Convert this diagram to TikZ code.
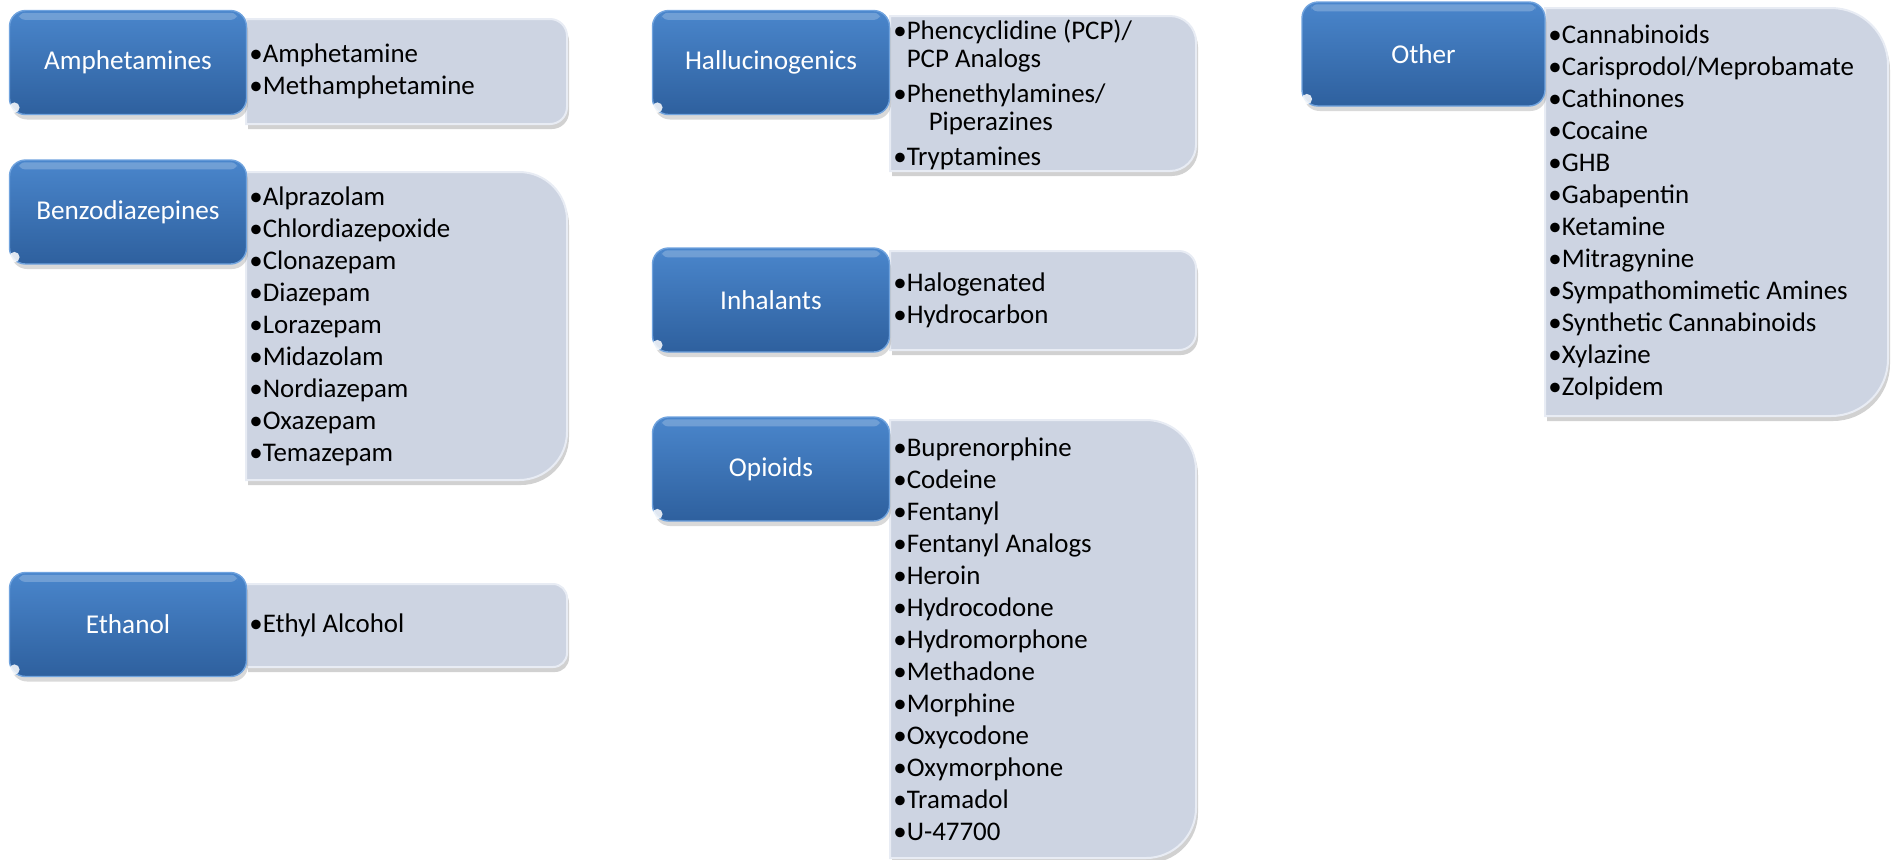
\documentclass[tikz,border=0pt]{standalone}
\usepackage{fontspec}
\setmainfont{Carlito}
\usetikzlibrary{shadows}
\definecolor{bluetop}{RGB}{74,134,204}
\definecolor{bluebot}{RGB}{46,96,158}
\definecolor{bluerim}{RGB}{112,163,222}
\definecolor{grayfill}{RGB}{205,212,226}
\definecolor{grayrim}{RGB}{232,236,244}
\tikzset{
  catbox/.style={rounded corners=8pt, minimum width=118.5pt, minimum height=52pt, inner sep=0pt,
    top color=bluetop, bottom color=bluebot, draw=bluerim, line width=0.7pt, text=white,
    font=\fontsize{13.6}{16}\selectfont,
    drop shadow={opacity=0.3, shadow xshift=0.8pt, shadow yshift=-2.5pt}},
  itemlist/.style={anchor=west, align=left, inner sep=0pt, text=black,
    font=\fontsize{13.45}{16}\selectfont},
  gloss/.style={white, opacity=0.22},
}
\newcommand\grayshape[5]{%
  \fill[black,opacity=0.18,shift={(2,5)}] (#1,#2) -- ({#3-#5},#2) arc[start angle=-90,end angle=0,radius=#5]
     -- (#3,{#4-#5}) arc[start angle=0,end angle=90,radius=#5] -- (#1,#4) -- cycle;
  \filldraw[fill=grayfill, draw=grayrim, line width=1pt] (#1,#2) -- ({#3-#5},#2) arc[start angle=-90,end angle=0,radius=#5]
     -- (#3,{#4-#5}) arc[start angle=0,end angle=90,radius=#5] -- (#1,#4) -- cycle;
}
\newcommand\glossy[1]{%
  \fill[gloss, rounded corners=3pt] ([xshift=5pt,yshift=-1.5pt]#1.north west) rectangle ([xshift=-5pt,yshift=-5pt]#1.north east);
  \fill[white, opacity=0.85] ([xshift=2.8pt,yshift=3.8pt]#1.south west) circle[radius=2.6pt];
}
\begin{document}
\begin{tikzpicture}[x=0.5pt,y=-0.5pt]
\useasboundingbox (0,0) rectangle (1891,859);
% gray list panels
\grayshape{246}{19}{567}{124}{17}
\grayshape{246}{172}{567}{480}{48}
\grayshape{246}{584}{567}{667}{14}
\grayshape{890}{16}{1196}{171}{26}
\grayshape{890}{251}{1196}{350}{17}
\grayshape{890}{420}{1196}{858}{50}
\grayshape{1545}{8}{1888}{416}{57}
% category boxes
\node[catbox] (amph) at (128,62.5) {Amphetamines};
\node[catbox] (benzo) at (128,212) {Benzodiazepines};
\node[catbox] (eth) at (128,624.5) {Ethanol};
\node[catbox] (hall) at (771,62.5) {Hallucinogenics};
\node[catbox] (inh) at (771,300) {Inhalants};
\node[catbox] (opi) at (771,469) {Opioids};
\node[catbox, minimum width=121.5pt] (oth) at (1423.5,54) {Other};
\glossy{amph}\glossy{benzo}\glossy{eth}\glossy{hall}\glossy{inh}\glossy{opi}\glossy{oth}
% item lists
\node[itemlist] (amphl) at (249,71.5) {•Amphetamine\\•Methamphetamine};
\node[itemlist] (benzol) at (249,326) {•Alprazolam\\•Chlordiazepoxide\\•Clonazepam\\•Diazepam\\•Lorazepam\\•Midazolam\\•Nordiazepam\\•Oxazepam\\•Temazepam};
\node[itemlist] (ethl) at (249,625.5) {•Ethyl Alcohol};
\node[itemlist, font=\fontsize{13.45}{14}\selectfont] (halll) at (893,95) {•Phencyclidine (PCP)/\\\hphantom{•}PCP Analogs\\[3.5pt]•Phenethylamines/\\\hphantom{•}\hspace*{11pt}Piperazines\\[3.5pt]•Tryptamines};
\node[itemlist] (inhl) at (893,300) {•Halogenated\\•Hydrocarbon};
\node[itemlist] (opil) at (893,639) {•Buprenorphine\\•Codeine\\•Fentanyl\\•Fentanyl Analogs\\•Heroin\\•Hydrocodone\\•Hydromorphone\\•Methadone\\•Morphine\\•Oxycodone\\•Oxymorphone\\•Tramadol\\•U-47700};
\node[itemlist] (othl) at (1548,212) {•Cannabinoids\\•Carisprodol/Meprobamate\\•Cathinones\\•Cocaine\\•GHB\\•Gabapentin\\•Ketamine\\•Mitragynine\\•Sympathomimetic Amines\\•Synthetic Cannabinoids\\•Xylazine\\•Zolpidem};
\end{tikzpicture}
\end{document}
